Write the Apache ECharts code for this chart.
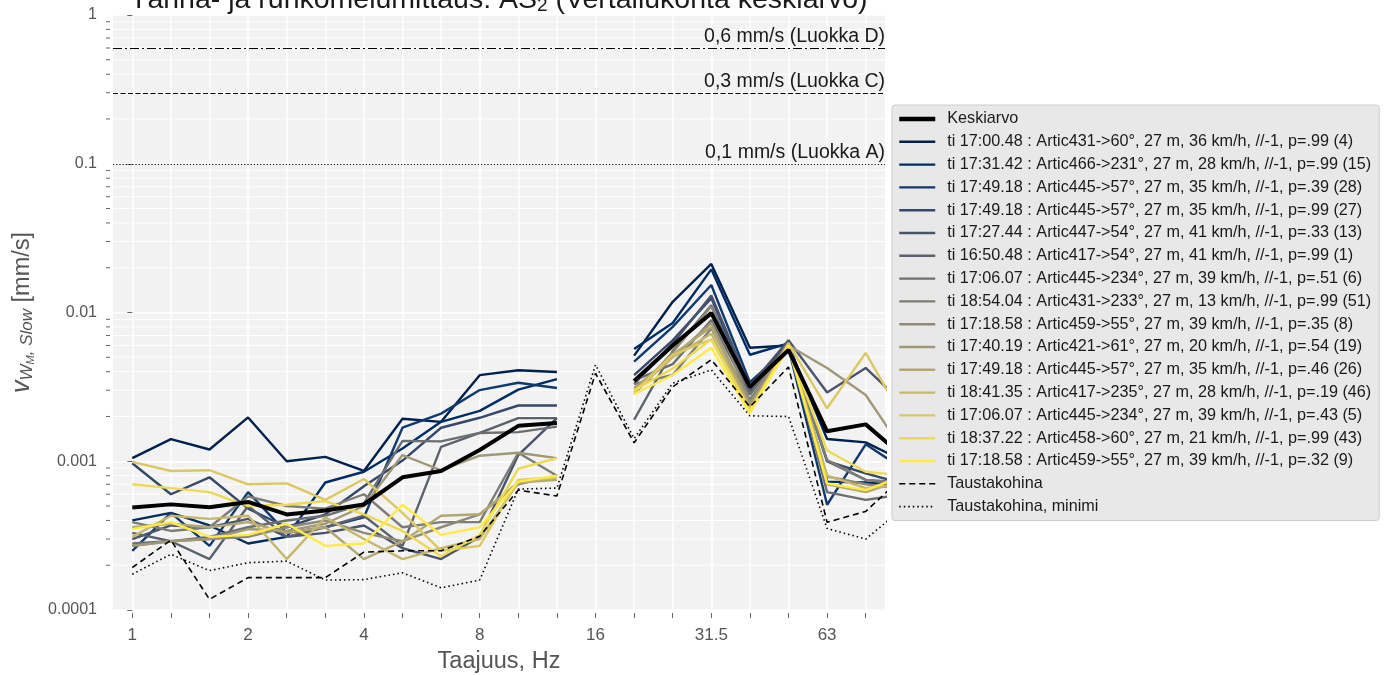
<!DOCTYPE html>
<html>
<head>
<meta charset="utf-8">
<script src="https://cdn.jsdelivr.net/npm/echarts@6/dist/echarts.min.js"></script>
<style>
  html, body { margin: 0; padding: 0; background: #ffffff; }
  #chart { width: 1387px; height: 675px; }
</style>
</head>
<body>
<div id="chart"></div>
<script>
// Third-octave band centre frequencies (Hz); plotted by band index.
const bandLabels = ['1','1.25','1.6','2','2.5','3.15','4','5','6.3','8','10','12.5','16','20','25','31.5','40','50','63','80','100'];
// Bands that carry a tick label.
const labelledBands = [0, 3, 6, 9, 12, 15, 18];
const tickLabels = ['1','2','4','8','16','31.5','63'];

// Pass-by names (legend order).
const passNames = [
  'ti 17:00.48 : Artic431->60°, 27 m, 36 km/h, //-1, p=.99 (4)',
  'ti 17:31.42 : Artic466->231°, 27 m, 28 km/h, //-1, p=.99 (15)',
  'ti 17:49.18 : Artic445->57°, 27 m, 35 km/h, //-1, p=.39 (28)',
  'ti 17:49.18 : Artic445->57°, 27 m, 35 km/h, //-1, p=.99 (27)',
  'ti 17:27.44 : Artic447->54°, 27 m, 41 km/h, //-1, p=.33 (13)',
  'ti 16:50.48 : Artic417->54°, 27 m, 41 km/h, //-1, p=.99 (1)',
  'ti 17:06.07 : Artic445->234°, 27 m, 39 km/h, //-1, p=.51 (6)',
  'ti 18:54.04 : Artic431->233°, 27 m, 13 km/h, //-1, p=.99 (51)',
  'ti 17:18.58 : Artic459->55°, 27 m, 39 km/h, //-1, p=.35 (8)',
  'ti 17:40.19 : Artic421->61°, 27 m, 20 km/h, //-1, p=.54 (19)',
  'ti 17:49.18 : Artic445->57°, 27 m, 35 km/h, //-1, p=.46 (26)',
  'ti 18:41.35 : Artic417->235°, 27 m, 28 km/h, //-1, p=.19 (46)',
  'ti 17:06.07 : Artic445->234°, 27 m, 39 km/h, //-1, p=.43 (5)',
  'ti 18:37.22 : Artic458->60°, 27 m, 21 km/h, //-1, p=.99 (43)',
  'ti 17:18.58 : Artic459->55°, 27 m, 39 km/h, //-1, p=.32 (9)'
];

// Velocity spectra per pass, mm/s (null = band not measured).
const pass00 = [0.00105,0.00141,0.00120,0.00197,0.00100,0.00107,0.00086,0.00193,0.00184,0.00379,0.00409,0.00398,null,0.00513,0.0118,0.0212,0.0058,0.0060,0.00141,0.00134,0.00100];
const pass01 = [0.00040,0.00045,0.00037,0.00028,0.00031,0.00072,0.00085,0.00122,0.00184,0.00218,0.00303,0.00357,null,0.00568,0.0085,0.0195,0.0052,0.0062,0.00073,0.00072,0.00068];
const pass02 = [0.00025,0.00045,0.00027,0.00062,0.00033,0.00036,0.00042,0.00168,0.00209,0.00301,0.00337,0.00311,null,0.00468,0.0080,0.0153,0.0034,0.0058,0.00051,0.00130,0.00088];
const pass03 = [0.00097,0.00060,0.00078,0.00048,0.00036,0.00044,0.00068,0.00101,0.00168,0.00196,0.00237,0.00237,null,0.00379,0.0065,0.0125,0.0030,0.0064,0.00100,0.00083,0.00070];
const pass04 = [0.00030,0.00037,0.00036,0.00041,0.00031,0.00033,0.00037,0.00026,0.00022,0.00031,0.00110,0.00195,null,0.0033,0.0062,0.0130,0.0032,0.0065,0.00290,0.00424,0.00240];
const pass05 = [0.00033,0.00029,0.00022,0.00050,0.00031,0.00036,0.00043,0.00027,0.00125,0.00155,0.00195,0.00195,null,0.0019,0.0055,0.0112,0.0029,0.0060,0.00100,0.00075,0.00070];
const pass06 = [0.00028,0.00029,0.00031,0.00036,0.00040,0.00043,0.00052,0.00137,0.00136,0.00155,0.00157,0.00171,null,0.0035,0.0045,0.0089,0.0028,0.0062,0.00062,0.00055,0.00060];
const pass07 = [0.00039,0.00034,0.00036,0.00058,0.00050,0.00048,0.00060,0.00036,0.00039,0.00039,0.00114,0.00080,null,0.0033,0.0038,0.0078,0.0026,0.0060,0.00102,0.00075,0.00072];
const pass08 = [0.00027,0.00029,0.00030,0.00031,0.00036,0.00040,0.00033,0.00029,0.00036,0.00044,0.00070,0.00080,null,0.00282,0.0054,0.0110,0.0025,0.0063,0.00079,0.00070,0.00065];
const pass09 = [0.00027,0.00029,0.00030,0.00035,0.00034,0.00038,0.00050,0.00110,0.00087,0.00109,0.00114,0.00105,null,0.0031,0.0050,0.0085,0.0024,0.0060,0.00424,0.00279,0.00115];
const pass10 = [0.00036,0.00038,0.00036,0.00039,0.00033,0.00036,0.00022,0.00029,0.00043,0.00044,0.00072,0.00075,null,0.0030,0.0052,0.0080,0.0023,0.0058,0.00070,0.00062,0.00075];
const pass11 = [0.00031,0.00043,0.00041,0.00043,0.00022,0.00042,0.00030,0.00022,0.00026,0.00030,0.00072,0.00078,null,0.0029,0.0050,0.0072,0.0022,0.0060,0.00080,0.00066,0.00070];
const pass12 = [0.00099,0.00086,0.00087,0.00070,0.00071,0.00055,0.00076,0.00045,0.00025,0.00027,0.00075,0.00078,null,0.0029,0.0052,0.0066,0.0022,0.0062,0.00227,0.00535,0.00188];
const pass13 = [0.00070,0.00066,0.00062,0.00050,0.00051,0.00054,0.00044,0.00034,0.00023,0.00032,0.00089,0.00105,null,0.0030,0.0042,0.0066,0.0022,0.0058,0.00118,0.00085,0.00080];
const pass14 = [0.00035,0.00039,0.00031,0.00032,0.00038,0.00027,0.00028,0.00051,0.00032,0.00036,0.00073,0.00080,null,0.00282,0.0038,0.0058,0.0021,0.0060,0.00071,0.00064,0.00080];
const passValues = [pass00,pass01,pass02,pass03,pass04,pass05,pass06,pass07,pass08,pass09,pass10,pass11,pass12,pass13,pass14];

// Average of the passes, background noise and its minimum.
const meanValues = [0.000488,0.000513,0.00049,0.000533,0.000439,0.000467,0.000512,0.00078,0.00086,0.00119,0.00173,0.00181,null,0.00346,0.0060,0.0099,0.00316,0.0056,0.00159,0.00177,0.00106];
const noiseValues = [0.000193,0.000295,0.000118,0.000165,0.000165,0.000165,0.000245,0.00025,0.00025,0.000313,0.00064,0.000584,0.0039,0.00133,0.00316,0.00482,0.00232,0.0043,0.000389,0.00046,0.00080];
const noiseMinValues = [0.000174,0.000237,0.000184,0.000208,0.000213,0.000159,0.00016,0.000178,0.000141,0.000159,0.00065,0.00066,0.00445,0.00142,0.00335,0.00411,0.00202,0.0020,0.000353,0.00030,0.00049];

// Vibration class limits, mm/s.
const limitValues = [0.6, 0.3, 0.1];
const limitLabels = ['0,6 mm/s (Luokka D)', '0,3 mm/s (Luokka C)', '0,1 mm/s (Luokka A)'];

// Cividis-style ramp for the passes.
const ramp = ['#00204D','#00336F','#39486B','#575C6D','#707173','#8A8779','#A69D75','#C4B56C','#E4CF5B','#FFEA46'];
function rampColor(t) {
  const p = t * (ramp.length - 1);
  const i = Math.min(Math.floor(p), ramp.length - 2);
  const f = p - i;
  const a = ramp[i], b = ramp[i + 1];
  const ch = k => {
    const ca = parseInt(a.substr(1 + 2 * k, 2), 16), cb = parseInt(b.substr(1 + 2 * k, 2), 16);
    return Math.round(ca + (cb - ca) * f).toString(16).padStart(2, '0');
  };
  return '#' + ch(0) + ch(1) + ch(2);
}

// Minor log grid positions 2..9 x 10^k.
const minorGrid = [];
for (let e = -4; e < 0; e++) for (let m = 2; m <= 9; m++) minorGrid.push([0, +(m * Math.pow(10, e)).toPrecision(3)]);

const FONT = '"Liberation Sans", Arial, Helvetica, sans-serif';
const xy = arr => arr.map((v, i) => [i, v]);

const series = [];

// minor grid lines and their ticks on the y axis
series.push({
  type: 'custom',
  name: 'minorgrid',
  silent: true,
  clip: false,
  z: 1,
  data: minorGrid,
  renderItem: (params, api) => {
    const v = api.value(1);
    const a = api.coord([-0.5, v]);
    const b = api.coord([19.5, v]);
    return {
      type: 'group',
      children: [
        { type: 'line', shape: { x1: a[0], y1: a[1], x2: b[0], y2: b[1] }, style: { stroke: '#ffffff', lineWidth: 1 } },
        { type: 'line', shape: { x1: a[0] - 7, y1: a[1], x2: a[0] - 3, y2: a[1] }, style: { stroke: '#666666', lineWidth: 1 } }
      ]
    };
  }
});

// class limit lines
series.push({
  type: 'line',
  name: 'limits',
  data: [],
  silent: true,
  z: 3,
  markLine: {
    silent: true,
    symbol: 'none',
    animation: false,
    data: limitValues.map((v, i) => ({
      yAxis: v,
      lineStyle: { color: '#000', width: 1.2, type: i === 0 ? [9, 3, 2, 3] : (i === 1 ? [5, 2.5] : [1.2, 2]) },
      label: { show: true, position: 'insideEndTop', formatter: limitLabels[i], color: '#1a1a1a', fontSize: 19.5, fontFamily: FONT, distance: [0, 1] }
    }))
  }
});

passValues.forEach((vals, k) => {
  const c = rampColor(k / (passValues.length - 1));
  series.push({
    type: 'line',
    name: passNames[k],
    data: xy(vals),
    symbol: 'none',
    z: 2,
    lineStyle: { width: 2.4, color: c },
    itemStyle: { color: c }
  });
});

series.push({
  type: 'line', name: 'Taustakohina', data: xy(noiseValues), symbol: 'none', z: 3,
  lineStyle: { width: 1.6, color: '#000', type: [6, 4] }, itemStyle: { color: '#000' }
});
series.push({
  type: 'line', name: 'Taustakohina, minimi', data: xy(noiseMinValues), symbol: 'none', z: 3,
  lineStyle: { width: 1.6, color: '#000', type: [1.5, 3] }, itemStyle: { color: '#000' }
});
series.push({
  type: 'line', name: 'Keskiarvo', data: xy(meanValues), symbol: 'none', z: 4,
  lineStyle: { width: 4, color: '#000' }, itemStyle: { color: '#000' }
});

const legendItems = [{ name: 'Keskiarvo', lineStyle: { width: 4.5 } }]
  .concat(passNames.map(n => ({ name: n, lineStyle: { width: 2.4 } })))
  .concat([{ name: 'Taustakohina', lineStyle: { width: 1.6 } }, { name: 'Taustakohina, minimi', lineStyle: { width: 1.6 } }]);

const chart = echarts.init(document.getElementById('chart'), null, { renderer: 'canvas' });
chart.setOption({
  animation: false,
  backgroundColor: '#ffffff',
  title: {
    text: '{t|Tärinä- ja runkomelumittaus: AS}{s|2}{t| (Vertailukohta keskiarvo)}',
    left: 125, top: -19,
    textStyle: {
      rich: {
        t: { fontSize: 28.5, fontWeight: 'normal', color: '#1a1a1a', fontFamily: FONT },
        s: { fontSize: 19, fontWeight: 'normal', color: '#1a1a1a', fontFamily: FONT, verticalAlign: 'bottom', padding: [10, 0, 0, 0] }
      }
    }
  },
  grid: {
    left: 113, top: 15, width: 772, height: 595,
    outerBoundsMode: 'none',
    containLabel: false,
    show: true, backgroundColor: '#f2f2f2', borderWidth: 0
  },
  legend: {
    orient: 'vertical',
    left: 892, top: 105,
    backgroundColor: '#e8e8e8',
    borderColor: '#cccccc', borderWidth: 1, borderRadius: 3,
    padding: [6, 8, 6, 5],
    itemWidth: 36, itemHeight: 16, itemGap: 6.8,
    itemStyle: { opacity: 0 },
    textStyle: { fontSize: 16.2, lineHeight: 16, color: '#1a1a1a', fontFamily: FONT, padding: [0, 0, 0, 7] },
    data: legendItems
  },
  xAxis: {
    type: 'value',
    min: -0.5, max: 19.5,
    offset: 3,
    name: 'Taajuus, Hz',
    nameLocation: 'middle', nameGap: 37,
    nameTextStyle: { fontSize: 23.5, color: '#555', fontFamily: FONT },
    axisLine: { show: false },
    axisTick: { show: true, length: 5, lineStyle: { color: '#666' }, customValues: bandLabels.slice(0, 20).map((_, i) => i) },
    axisLabel: {
      customValues: labelledBands,
      margin: 14,
      fontSize: 17, color: '#555', fontFamily: FONT,
      formatter: v => tickLabels[labelledBands.indexOf(Math.round(v))] || ''
    },
    splitLine: { show: true, lineStyle: { color: '#ffffff', width: 1.5 } }
  },
  yAxis: {
    type: 'log', logBase: 10,
    min: 0.0001, max: 1,
    offset: 3,
    name: '{v|v}{s|W}{ss|M}{s|, Slow}{r| [mm/s]}',
    nameLocation: 'middle', nameRotate: 90, nameGap: 74,
    nameTextStyle: {
      color: '#555',
      rich: {
        v: { fontSize: 25, color: '#555', fontFamily: FONT, fontStyle: 'italic' },
        r: { fontSize: 23.5, color: '#555', fontFamily: FONT },
        s: { fontSize: 17, color: '#555', fontFamily: FONT, fontStyle: 'italic', verticalAlign: 'bottom', padding: [10, 0, 0, 0] },
        ss: { fontSize: 11, color: '#555', fontFamily: FONT, fontStyle: 'italic', verticalAlign: 'bottom', padding: [15, 0, 0, 0] }
      }
    },
    axisLine: { show: false },
    axisTick: { show: true, length: 5, lineStyle: { color: '#666' } },
    axisLabel: {
      fontSize: 16, color: '#555', fontFamily: FONT, margin: 13,
      formatter: v => String(+v.toPrecision(1))
    },
    splitLine: { show: true, lineStyle: { color: '#ffffff', width: 1.5 } }
  },
  series: series
});
</script>
</body>
</html>
